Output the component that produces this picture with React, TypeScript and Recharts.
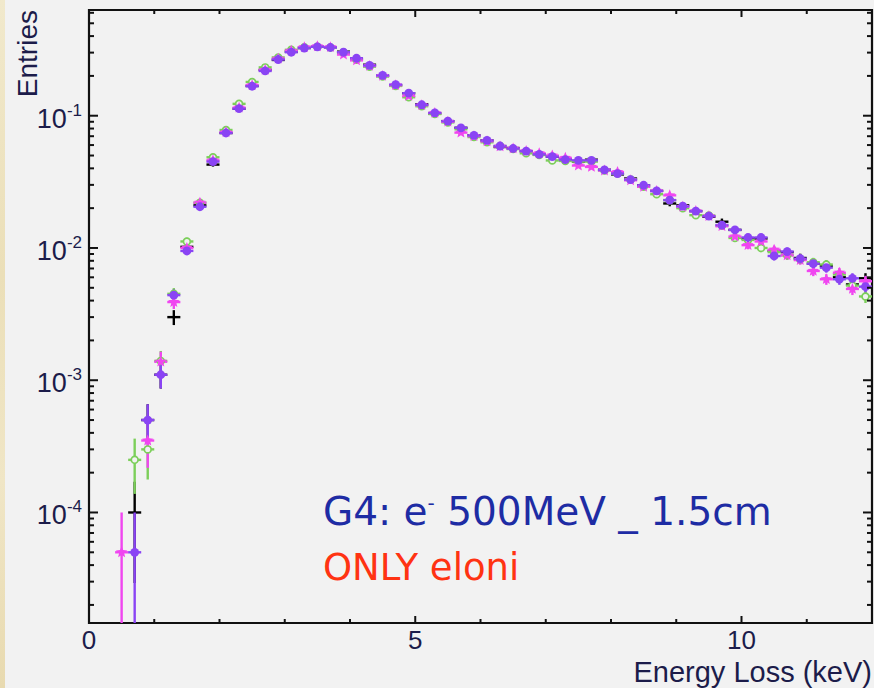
import React from "react";
import {
  ComposedChart,
  Scatter,
  XAxis,
  YAxis,
  ErrorBar,
  ReferenceArea,
} from "recharts";

// bin centres (keV), bins are 0.2 keV wide
const X_BINS = [
  0.5, 0.7, 0.9, 1.1, 1.3, 1.5, 1.7, 1.9, 2.1, 2.3,
  2.5, 2.7, 2.9, 3.1, 3.3, 3.5, 3.7, 3.9, 4.1, 4.3,
  4.5, 4.7, 4.9, 5.1, 5.3, 5.5, 5.7, 5.9, 6.1, 6.3,
  6.5, 6.7, 6.9, 7.1, 7.3, 7.5, 7.7, 7.9, 8.1, 8.3,
  8.5, 8.7, 8.9, 9.1, 9.3, 9.5, 9.7, 9.9, 10.1, 10.3,
  10.5, 10.7, 10.9, 11.1, 11.3, 11.5, 11.7, 11.9,
];
const BIN_HALF = 0.1;
const ENTRY_WEIGHT = 5e-5; // normalised weight of a single entry

const BLACK = [
  null, 1e-4, 5e-4, 1.1e-3, 3.0e-3, 1.02e-2, 2.1e-2, 4.27e-2, 7.4e-2, 0.113,
  0.168, 0.222, 0.264, 0.305, 0.325, 0.332, 0.33, 0.305, 0.27, 0.243,
  0.2, 0.17, 0.148, 0.122, 0.104, 0.091, 0.081, 0.071, 0.065, 0.058,
  0.057, 0.054, 0.051, 0.049, 0.047, 0.045, 0.0465, 0.039, 0.036, 0.0335,
  0.0298, 0.027, 0.0217, 0.021, 0.019, 0.0172, 0.0158, 0.0137, 0.0118, 0.0118,
  0.0095, 0.0093, 0.0084, 0.0076, 0.0073, 0.006, 0.0053, 0.0059,
];
const GREEN = [
  null, 2.5e-4, 3e-4, 1.4e-3, 4.5e-3, 1.12e-2, 2.2e-2, 4.85e-2, 7.8e-2, 0.123,
  0.18, 0.232, 0.276, 0.315, 0.33, 0.332, 0.328, 0.3, 0.265, 0.235,
  0.198, 0.168, 0.138, 0.118, 0.103, 0.089, 0.079, 0.069, 0.063, 0.059,
  0.056, 0.052, 0.0505, 0.0459, 0.0455, 0.045, 0.045, 0.0385, 0.0365, 0.033,
  0.029, 0.0255, 0.023, 0.02, 0.0177, 0.0176, 0.0148, 0.0119, 0.0115, 0.01,
  0.0093, 0.0088, 0.0082, 0.0078, 0.0075, 0.0063, 0.0052, 0.0043,
];
const MAGENTA = [
  5e-5, null, 3.5e-4, 1.38e-3, 3.9e-3, 1.0e-2, 2.2e-2, 4.6e-2, 7.5e-2, 0.115,
  0.17, 0.222, 0.27, 0.31, 0.33, 0.335, 0.33, 0.29, 0.262, 0.238,
  0.2, 0.17, 0.141, 0.12, 0.105, 0.09, 0.0745, 0.07, 0.064, 0.0585,
  0.0565, 0.054, 0.052, 0.05, 0.048, 0.042, 0.041, 0.0385, 0.0375, 0.0325,
  0.029, 0.027, 0.025, 0.0205, 0.019, 0.0174, 0.0146, 0.0122, 0.0105, 0.0112,
  0.0097, 0.0088, 0.0081, 0.0067, 0.0058, 0.0065, 0.0049, 0.0056,
];
const PURPLE = [
  null, 5e-5, 5e-4, 1.1e-3, 4.4e-3, 9.5e-3, 2.05e-2, 4.5e-2, 7.4e-2, 0.113,
  0.167, 0.218, 0.266, 0.302, 0.325, 0.332, 0.328, 0.302, 0.272, 0.24,
  0.202, 0.172, 0.148, 0.121, 0.105, 0.091, 0.081, 0.071, 0.065, 0.059,
  0.0565, 0.054, 0.051, 0.049, 0.0466, 0.046, 0.046, 0.039, 0.0365, 0.0329,
  0.0298, 0.027, 0.023, 0.0207, 0.019, 0.0174, 0.0149, 0.0137, 0.012, 0.012,
  0.0087, 0.0094, 0.0083, 0.0076, 0.0071, 0.0058, 0.0059, 0.0051,
];

const X_TICKS = [0, 1, 2, 3, 4, 5, 6, 7, 8, 9, 10, 11, 12];
const X_LABELED = [0, 5, 10];
const Y_DECADES = [1e-5, 1e-4, 1e-3, 1e-2, 1e-1];
const Y_MULT = [1, 2, 3, 4, 5, 6, 7, 8, 9];

const X_MIN = 0;
const X_MAX = 12;
const Y_MIN = 1.46e-5;
const Y_MAX = 0.63;

const Y_TICKS = Y_DECADES.flatMap((d) => Y_MULT.map((m) => m * d)).filter(
  (v) => v >= Y_MIN && v <= Y_MAX
);

const W = 874;
const H = 688;
const PLOT_LEFT = 89;
const PLOT_RIGHT = 872;
const PLOT_TOP = 10;
const PLOT_BOTTOM = 623;

const BG = "#f2f2f2";
const INK = "#1c1c4a";
const C_BLACK = "#000000";
const C_GREEN = "#7ccf5a";
const C_MAGENTA = "#f046f0";
const C_PURPLE = "#8a44f4";
const LABEL_FONT = "'Liberation Sans', Arial, Helvetica, sans-serif";

function rows(vals: (number | null)[]) {
  return X_BINS.flatMap((x, i) => {
    const v = vals[i];
    if (v == null) return [];
    const e = Math.sqrt(v * ENTRY_WEIGHT);
    return [{ x, y: v, ex: BIN_HALF, ey: [Math.min(e, v - Y_MIN), e] }];
  });
}

const noMarker = () => <g />;

const openCircle = (p: any) => (
  <circle cx={p.cx} cy={p.cy} r={3.4} fill={BG} stroke={C_GREEN} strokeWidth={1.7} />
);

const star = (p: any) => {
  const pts: string[] = [];
  for (let i = 0; i < 10; i++) {
    const a = (-90 + i * 36) * (Math.PI / 180);
    const r = i % 2 === 0 ? 6 : 2.7;
    pts.push(`${p.cx + r * Math.cos(a)},${p.cy + r * Math.sin(a)}`);
  }
  return <polygon points={pts.join(" ")} fill={C_MAGENTA} />;
};

const dot = (p: any) => <circle cx={p.cx} cy={p.cy} r={4.4} fill={C_PURPLE} />;

function XTick(props: any) {
  const { x, payload } = props;
  const v = payload.value;
  const major = X_LABELED.includes(v);
  const len = major ? 7 : 4;
  return (
    <g>
      <line x1={x} x2={x} y1={PLOT_BOTTOM} y2={PLOT_BOTTOM - len} stroke="#111" strokeWidth={2} />
      <line x1={x} x2={x} y1={PLOT_TOP} y2={PLOT_TOP + len} stroke="#111" strokeWidth={2} />
      {major && (
        <text x={x} y={649} textAnchor="middle" fontSize={26} fill={INK} fontFamily={LABEL_FONT}>
          {v}
        </text>
      )}
    </g>
  );
}

function YTick(props: any) {
  const { y, payload } = props;
  const lg = Math.log10(payload.value);
  const exp = Math.round(lg);
  const major = Math.abs(lg - exp) < 1e-6;
  const len = major ? 9 : 5;
  return (
    <g>
      <line x1={PLOT_LEFT} x2={PLOT_LEFT + len} y1={y} y2={y} stroke="#111" strokeWidth={2} />
      <line x1={PLOT_RIGHT - len} x2={PLOT_RIGHT} y1={y} y2={y} stroke="#111" strokeWidth={2} />
      {major && (
        <text x={82} y={y + 12} textAnchor="end" fontSize={27} fill={INK} fontFamily={LABEL_FONT}>
          10
          <tspan dy={-12} fontSize={17}>
            {exp}
          </tspan>
        </text>
      )}
    </g>
  );
}

const SERIES = [
  { name: "black", data: rows(BLACK), color: C_BLACK, shape: noMarker },
  { name: "green", data: rows(GREEN), color: C_GREEN, shape: openCircle },
  { name: "magenta", data: rows(MAGENTA), color: C_MAGENTA, shape: star },
  { name: "purple", data: rows(PURPLE), color: C_PURPLE, shape: dot },
];

export default function App() {
  return (
    <div
      style={{
        position: "absolute",
        left: 0,
        top: 0,
        width: W,
        height: H,
        background: BG,
        overflow: "hidden",
      }}
    >
      <div
        style={{
          position: "absolute",
          left: 0,
          top: 0,
          width: 5,
          height: H,
          background: "linear-gradient(180deg, #f1e9cc 0%, #ebdfb8 40%, #f0e6c6 70%, #e8dab0 100%)",
        }}
      />
      <ComposedChart
        width={W}
        height={H}
        margin={{ top: PLOT_TOP, right: W - PLOT_RIGHT, bottom: 0, left: 0 }}
      >
        <XAxis
          type="number"
          dataKey="x"
          domain={[X_MIN, X_MAX]}
          ticks={X_TICKS}
          interval={0}
          allowDataOverflow
          height={H - PLOT_BOTTOM}
          tick={XTick}
          tickLine={false}
          axisLine={false}
        />
        <YAxis
          type="number"
          dataKey="y"
          scale="log"
          domain={[Y_MIN, Y_MAX]}
          ticks={Y_TICKS}
          interval={0}
          allowDataOverflow
          width={PLOT_LEFT}
          tick={YTick}
          tickLine={false}
          axisLine={false}
        />
        <ReferenceArea
          x1={X_MIN}
          x2={X_MAX}
          y1={Y_MIN}
          y2={Y_MAX}
          fill="none"
          fillOpacity={0}
          stroke="#111"
          strokeWidth={2.2}
        />
        {SERIES.map((s) => (
          <Scatter
            key={s.name}
            name={s.name}
            data={s.data}
            shape={s.shape}
            isAnimationActive={false}
          >
            <ErrorBar
              dataKey="ey"
              direction="y"
              width={0}
              stroke={s.color}
              strokeWidth={2.4}
              isAnimationActive={false}
            />
            <ErrorBar
              dataKey="ex"
              direction="x"
              width={0}
              stroke={s.color}
              strokeWidth={2.4}
              isAnimationActive={false}
            />
          </Scatter>
        ))}
      </ComposedChart>
      <svg
        width={W}
        height={H}
        style={{ position: "absolute", left: 0, top: 0, pointerEvents: "none" }}
      >
        <text
          transform="rotate(-90)"
          x={-10}
          y={37}
          textAnchor="end"
          fontSize={28}
          fill={INK}
          fontFamily={LABEL_FONT}
        >
          Entries
        </text>
        <text x={872} y={682} textAnchor="end" fontSize={29} fill={INK} fontFamily={LABEL_FONT}>
          Energy Loss (keV)
        </text>
        <text x={323} y={525} fontSize={39} fill="#1e2ca4" fontFamily="'DejaVu Sans', sans-serif">
          G4: e
          <tspan dy={-15} fontSize={20}>
            -
          </tspan>
          <tspan dy={15}> 500MeV _ 1.5cm</tspan>
        </text>
        <text x={323} y={580} fontSize={37} fill="#ff3312" fontFamily="'DejaVu Sans', sans-serif">
          ONLY eloni
        </text>
      </svg>
    </div>
  );
}
